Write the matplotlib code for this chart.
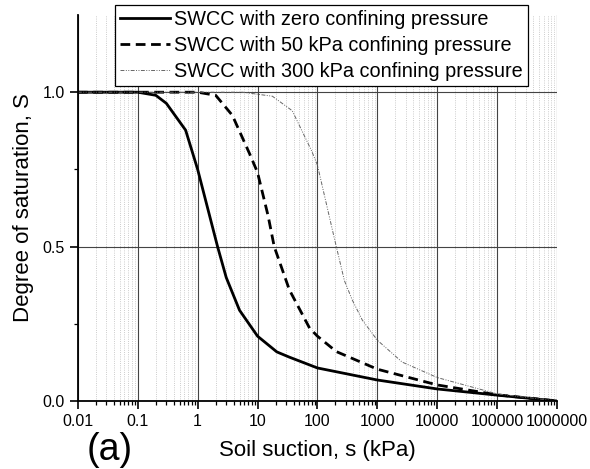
import matplotlib.pyplot as plt
from matplotlib.ticker import LogLocator, FixedLocator, NullFormatter

plt.rcParams['font.family'] = ['Liberation Sans', 'DejaVu Sans']

# suction (kPa) and degree of saturation
s_zero = [0.01, 0.1, 0.2, 0.3, 0.63, 1, 2.15, 3, 5, 10, 21, 34, 100, 1000, 10000, 100000, 1000000]
S_zero = [1.0, 1.0, 0.99, 0.964, 0.877, 0.75, 0.5, 0.40, 0.294, 0.21, 0.159, 0.142, 0.107, 0.068, 0.039, 0.019, 0.0]

s_50 = [0.01, 1, 2, 3.8, 7.4, 10, 15, 19, 34, 74, 100, 207, 1000, 10000, 100000, 1000000]
S_50 = [1.0, 1.0, 0.99, 0.925, 0.80, 0.74, 0.6, 0.5, 0.36, 0.236, 0.21, 0.16, 0.103, 0.052, 0.02, 0.0]

s_300 = [0.01, 5.6, 17.7, 38, 80, 100, 190, 282, 382, 562, 1000, 2600, 10000, 100000, 1000000]
S_300 = [1.0, 1.0, 0.987, 0.94, 0.81, 0.764, 0.53, 0.39, 0.327, 0.262, 0.197, 0.126, 0.076, 0.023, 0.0]

x_ticks = [0.01, 0.1, 1, 10, 100, 1000, 10000, 100000, 1000000]
x_ticklabels = ['0.01', '0.1', '1', '10', '100', '1000', '10000', '100000', '1000000']

fig = plt.figure(figsize=(5.9, 4.69), dpi=100)
ax = fig.add_axes([0.132, 0.145, 0.812, 0.823])

ax.plot(s_zero, S_zero, color='black', lw=2, label='SWCC with zero confining pressure')
ax.plot(s_50, S_50, color='black', lw=2, ls=(0, (3.5, 2)), label='SWCC with 50 kPa confining pressure')
ax.plot(s_300, S_300, color='#666666', lw=0.7, ls=(0, (4, 1.5, 1, 1.5, 1, 1.5)),
        label='SWCC with 300 kPa confining pressure')

ax.set_xscale('log')
ax.set_xlim(0.01, 1000000)
ax.set_ylim(0, 1.25)
ax.set_xticks(x_ticks)
ax.set_xticklabels(x_ticklabels)
ax.xaxis.set_minor_locator(LogLocator(base=10, subs=range(2, 10), numticks=20))
ax.xaxis.set_minor_formatter(NullFormatter())
ax.set_yticks([0.0, 0.5, 1.0])
ax.set_yticklabels(['0.0', '0.5', '1.0'])
ax.yaxis.set_minor_locator(FixedLocator([0.25, 0.75]))

ax.grid(True, which='major', color='#444444', lw=0.8, ls='-')
ax.grid(True, which='minor', axis='x', color='#bbbbbb', lw=0.6, ls=':')
ax.set_axisbelow(True)

for side in ['top', 'right']:
    ax.spines[side].set_visible(False)
for side in ['left', 'bottom']:
    ax.spines[side].set_linewidth(1.3)

ax.tick_params(which='major', direction='out', length=6, width=1.2, labelsize=11.5)
ax.tick_params(which='minor', direction='out', length=3, width=0.9)

ax.set_xlabel('Soil suction, s (kPa)', fontsize=16, labelpad=8)
ax.set_ylabel('Degree of saturation, S', fontsize=16, labelpad=6)

leg = ax.legend(loc='upper center', bbox_to_anchor=(0.545, 0.989), bbox_transform=fig.transFigure,
                fontsize=14.3, frameon=True, fancybox=False, edgecolor='black', framealpha=1,
                handlelength=2.5, handletextpad=0.2, borderpad=0.25, labelspacing=0.35,
                borderaxespad=0)
leg.get_frame().set_linewidth(0.9)

fig.text(0.147, 0.02, '(a)', fontsize=27, va='baseline')

fig.savefig('out.png', dpi=100)
